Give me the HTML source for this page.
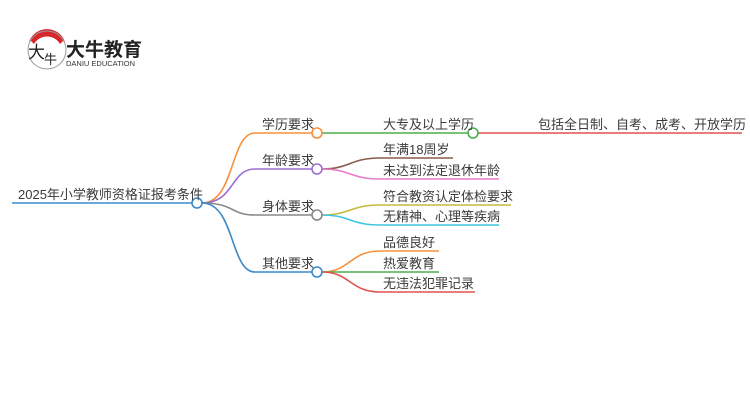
<!DOCTYPE html>
<html><head><meta charset="utf-8"><style>
body{margin:0;background:#fff;width:750px;height:410px;overflow:hidden}
text{font-family:"Liberation Sans","Noto Sans CJK SC",sans-serif;fill:#3a3a3a}
</style></head><body>
<svg width="750" height="410" xmlns="http://www.w3.org/2000/svg">
<!-- logo -->
<path d="M29 42 A19 19 0 0 1 65 42 A30 30 0 0 0 29 42 Z" fill="#d9262b"/>
<path d="M30 40 A19 19 0 0 1 64 40 L60 44 A15 15 0 0 0 34 44 Z" fill="#d9262b"/>
<circle cx="47" cy="50" r="19" fill="none" stroke="#999" stroke-width="1"/>
<text x="28" y="58" font-size="17" style="fill:#222">大</text>
<text x="44" y="64" font-size="13" style="fill:#222">牛</text>
<text x="66" y="56" font-size="19" font-weight="bold" style="fill:#222">大牛教育</text>
<text x="66" y="66" font-size="7.5" style="fill:#333">DANIU EDUCATION</text>

<g fill="none" stroke-width="1.6">
<path d="M12 203 H192" stroke="#3b8ac9"/>
<path d="M202 203 C235 203,230 133,255 133 H312" stroke="#f7903a"/>
<path d="M202 203 C235 203,230 169,255 169 H312" stroke="#9b6fcf"/>
<path d="M202 203 C235 203,230 215,255 215 H312" stroke="#888"/>
<path d="M202 203 C235 203,230 272,255 272 H312" stroke="#3b8ac9"/>
<path d="M322 133 H468" stroke="#4caf50"/>
<path d="M478 133 H742" stroke="#e0524e"/>
<path d="M322 169 C350 169,350 158,380 158 H453" stroke="#8b5a4a"/>
<path d="M322 169 C350 169,350 179,380 179 H499" stroke="#e87ac9"/>
<path d="M322 215 C350 215,350 205,380 205 H511" stroke="#c5bb3a"/>
<path d="M322 215 C350 215,350 225,380 225 H499" stroke="#3ec5e0"/>
<path d="M322 272 C350 272,350 251,380 251 H439" stroke="#f7903a"/>
<path d="M322 272 H439" stroke="#4caf50"/>
<path d="M322 272 C350 272,350 292,380 292 H475" stroke="#e0524e"/>
</g>
<g fill="#fff" stroke-width="1.6">
<circle cx="197" cy="203" r="5" stroke="#3b8ac9"/>
<circle cx="317" cy="133" r="5" stroke="#f7903a"/>
<circle cx="317" cy="169" r="5" stroke="#9b6fcf"/>
<circle cx="317" cy="215" r="5" stroke="#888"/>
<circle cx="317" cy="272" r="5" stroke="#3b8ac9"/>
<circle cx="473" cy="133" r="5" stroke="#4caf50"/>
</g>
<g font-size="13">
<text x="18" y="199">2025年小学教师资格证报考条件</text>
<text x="262" y="129">学历要求</text>
<text x="262" y="165">年龄要求</text>
<text x="262" y="211">身体要求</text>
<text x="262" y="268">其他要求</text>
<text x="383" y="129">大专及以上学历</text>
<text x="538" y="129">包括全日制、自考、成考、开放学历</text>
<text x="383" y="154">年满18周岁</text>
<text x="383" y="175">未达到法定退休年龄</text>
<text x="383" y="201">符合教资认定体检要求</text>
<text x="383" y="221">无精神、心理等疾病</text>
<text x="383" y="247">品德良好</text>
<text x="383" y="268">热爱教育</text>
<text x="383" y="288">无违法犯罪记录</text>
</g>
</svg>
</body></html>
